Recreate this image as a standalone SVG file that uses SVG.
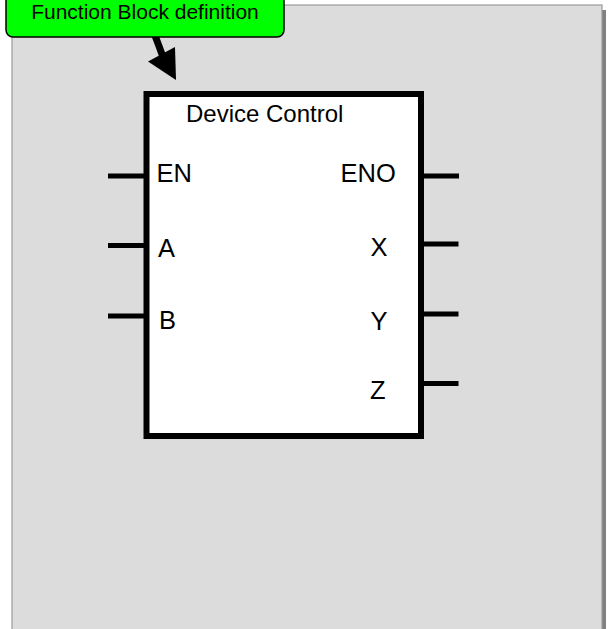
<svg xmlns="http://www.w3.org/2000/svg" width="613" height="629" viewBox="0 0 613 629">
  <style>
    .lbl { font-family: "Liberation Sans", Arial, sans-serif; fill: #000; }
    .port { font-size: 25.5px; }
    .pin { stroke: #000; stroke-width: 5; fill: none; }
  </style>
  <rect width="613" height="629" fill="#ffffff"/>
  <g id="panel">
    <rect x="602" y="10" width="4" height="625" fill="#808080"/>
    <rect x="12" y="5" width="590" height="630" fill="#dcdcdc" stroke="#999999" stroke-width="1.2"/>
  </g>
  <g id="device-control">
    <rect x="146.5" y="94" width="274.5" height="342" fill="#ffffff" stroke="#000" stroke-width="6"/>
    <text class="lbl" x="186" y="122" font-size="24">Device Control</text>
    <text class="lbl port" x="156.5" y="182">EN</text>
    <text class="lbl port" x="158" y="257">A</text>
    <text class="lbl port" x="159" y="328.5">B</text>
    <text class="lbl port" x="340.5" y="182">ENO</text>
    <text class="lbl port" x="370.5" y="256">X</text>
    <text class="lbl port" x="370.5" y="330">Y</text>
    <text class="lbl port" x="370" y="399">Z</text>
  </g>
  <g id="pins">
    <line class="pin" x1="108" y1="176" x2="146" y2="176"/>
    <line class="pin" x1="108" y1="245.5" x2="146" y2="245.5"/>
    <line class="pin" x1="108" y1="316" x2="146" y2="316"/>
    <line class="pin" x1="421" y1="176" x2="459" y2="176"/>
    <line class="pin" x1="421" y1="244" x2="458.5" y2="244"/>
    <line class="pin" x1="421" y1="314" x2="458.5" y2="314"/>
    <line class="pin" x1="421" y1="383.5" x2="458.5" y2="383.5"/>
  </g>
  <g id="connectors">
    <line x1="153" y1="30" x2="163" y2="57" stroke="#000" stroke-width="7"/>
    <polygon points="148,61.5 175,47 176,80" fill="#000"/>
  </g>
  <g id="callout">
    <rect x="6" y="-12" width="278" height="49" rx="7" ry="7" fill="#00ff00" stroke="#000" stroke-width="1.5"/>
    <text class="lbl" x="145" y="19" font-size="21" text-anchor="middle">Function Block definition</text>
  </g>
</svg>
